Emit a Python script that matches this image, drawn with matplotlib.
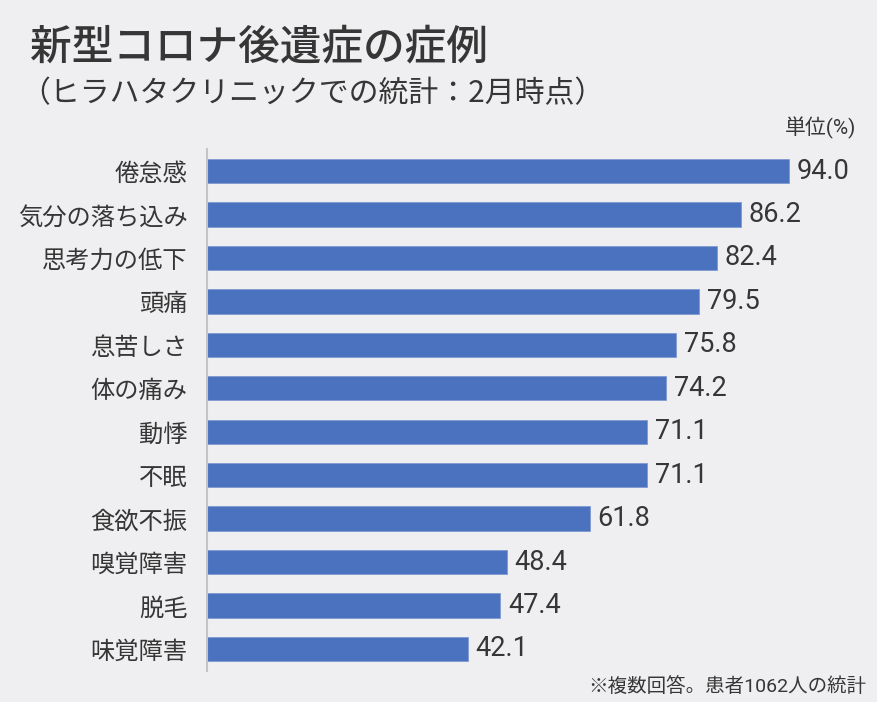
import matplotlib.pyplot as plt

plt.rcParams['font.family'] = ['Noto Sans CJK JP', 'DejaVu Sans']

# データ
labels = ['倦怠感', '気分の落ち込み', '思考力の低下', '頭痛', '息苦しさ', '体の痛み',
          '動悸', '不眠', '食欲不振', '嗅覚障害', '脱毛', '味覚障害']
values = [94.0, 86.2, 82.4, 79.5, 75.8, 74.2, 71.1, 71.1, 61.8, 48.4, 47.4, 42.1]

bg = '#efeff1'
bar_color = '#4a72be'
text_color = '#363636'
num_font = ['Roboto', 'Noto Sans CJK JP']

fig = plt.figure(figsize=(8.78, 7.02), dpi=100, facecolor=bg)
ax = fig.add_axes([207 / 878, 1 - 670.7 / 702, 619 / 878, (670.7 - 149.3) / 702])
ax.set_facecolor(bg)

y = list(range(len(labels)))
ax.barh(y, values, height=0.56, color=bar_color, edgecolor='#7f9ad3', linewidth=0.6)
ax.set_ylim(len(labels) - 0.5, -0.5)
ax.set_xlim(0, 100)

for yi, v in zip(y, values):
    ax.text(v + 1.2, yi, f'{v:.1f}', va='center', ha='left', fontsize=19.5,
            family=num_font, color=text_color)

ax.set_yticks(y)
ax.set_yticklabels(labels, fontsize=17.5, color=text_color)
ax.tick_params(axis='y', length=0, pad=14)
ax.set_xticks([])
for s in ['top', 'right', 'bottom']:
    ax.spines[s].set_visible(False)
ax.spines['left'].set_color('#c4c4c8')
ax.spines['left'].set_linewidth(1.5)

fig.text(30 / 878, 1 - 47 / 702, '新型コロナ後遺症の症例', fontsize=30, fontweight='medium',
         color=text_color, va='center', ha='left')
fig.text(20 / 878, 1 - 94 / 702, '（ヒラハタクリニックでの統計：2月時点）', fontsize=21.5,
         color=text_color, va='center', ha='left')
fig.text(856 / 878, 1 - 128 / 702, '単位(%)', fontsize=15, color=text_color,
         family=num_font, va='center', ha='right')
fig.text(866 / 878, 1 - 686 / 702, '※複数回答。患者1062人の統計', fontsize=14,
         family=num_font, color=text_color, va='center', ha='right')

fig.savefig('out.png', dpi=100, facecolor=bg)
